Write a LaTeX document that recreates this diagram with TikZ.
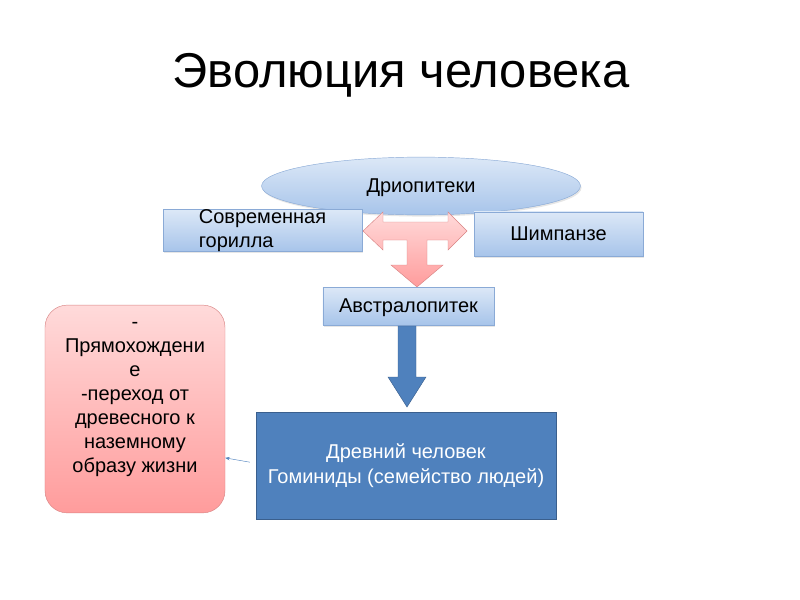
\documentclass[tikz,border=0pt]{standalone}
\usepackage{fontspec}
\setmainfont{Liberation Sans}
\usepackage{tikz}
\usetikzlibrary{shapes.geometric,shadows,arrows.meta}
\definecolor{boxTop}{HTML}{DCE8F7}
\definecolor{boxBot}{HTML}{A7C4EA}
\definecolor{boxLine}{HTML}{8AAAD6}
\definecolor{redTop}{HTML}{FFDADA}
\definecolor{redBot}{HTML}{FF9C9C}
\definecolor{redLine}{HTML}{D88484}
\definecolor{deepBlue}{HTML}{4F81BD}
\definecolor{deepLine}{HTML}{3A5F8D}

\tikzset{
  lightbox/.style={draw=boxLine, top color=boxTop, bottom color=boxBot,
    inner sep=0pt, align=center, font=\fontsize{18}{21.6}\selectfont,
    drop shadow={opacity=0.2, shadow xshift=1pt, shadow yshift=-1.5pt}},
  notebox/.style={draw=redLine, top color=redTop, bottom color=redBot,
    rounded corners=20pt, inner sep=0pt, align=center,
    font=\fontsize{18}{21.6}\selectfont},
  darkbox/.style={draw=deepLine, fill=deepBlue, text=white, inner sep=0pt,
    align=center, font=\fontsize{18}{22.5}\selectfont}
}

\begin{document}
\begin{tikzpicture}[x=0.9pt, y=-0.9pt]
  \useasboundingbox (0,0) rectangle (800,600);
  % ---- title ----
  \node (title) at (401,75) {\fontsize{44}{50}\selectfont Эволюция человека};
  % ---- top level ----
  \node[lightbox, ellipse, minimum width=287pt, minimum height=52pt, text depth=0pt]
    (drio) at (421,186) {Дриопитеки};
  \node[lightbox, minimum width=179pt, minimum height=35pt, align=left]
    (gorilla) at (262.5,230.5) {Современная\\горилла};
  \node[lightbox, minimum width=152pt, minimum height=40pt]
    (chimp) at (558.5,234) {Шимпанзе};
  % ---- red T arrow ----
  \draw[redLine, top color=redTop, bottom color=redBot]
    (363,231) -- (383,212) -- (383,222) -- (448,222) -- (448,212)
    -- (467,231) -- (448,250) -- (448,240) -- (427,240) -- (427,265)
    -- (443,265) -- (417,287) -- (391,265) -- (407,265) -- (407,240)
    -- (383,240) -- (383,250) -- cycle;
  \node[lightbox, minimum width=154pt, minimum height=34pt, text depth=0pt]
    (austr) at (408.5,306) {Австралопитек};
  % ---- blue arrow ----
  \draw[deepLine, fill=deepBlue]
    (398,326) -- (416,326) -- (416,377) -- (426,377) -- (407,407)
    -- (388,377) -- (398,377) -- cycle;
  \node[darkbox, minimum width=270pt, minimum height=96pt]
    (ancient) at (406,465.5) {Древний человек\\Гоминиды (семейство людей)};
  % ---- note ----
  \node[notebox, minimum width=162pt, minimum height=187pt]
    (note) at (135,409) {-\\Прямохождени\\е\\-переход от\\древесного к\\наземному\\образу жизни\\\mbox{}};
  \draw[deepBlue, -{Stealth[length=4pt, width=3pt]}]
    ([xshift=-5.4pt, yshift=3pt]ancient.west) -- ([yshift=-44pt]note.east);
\end{tikzpicture}
\end{document}
